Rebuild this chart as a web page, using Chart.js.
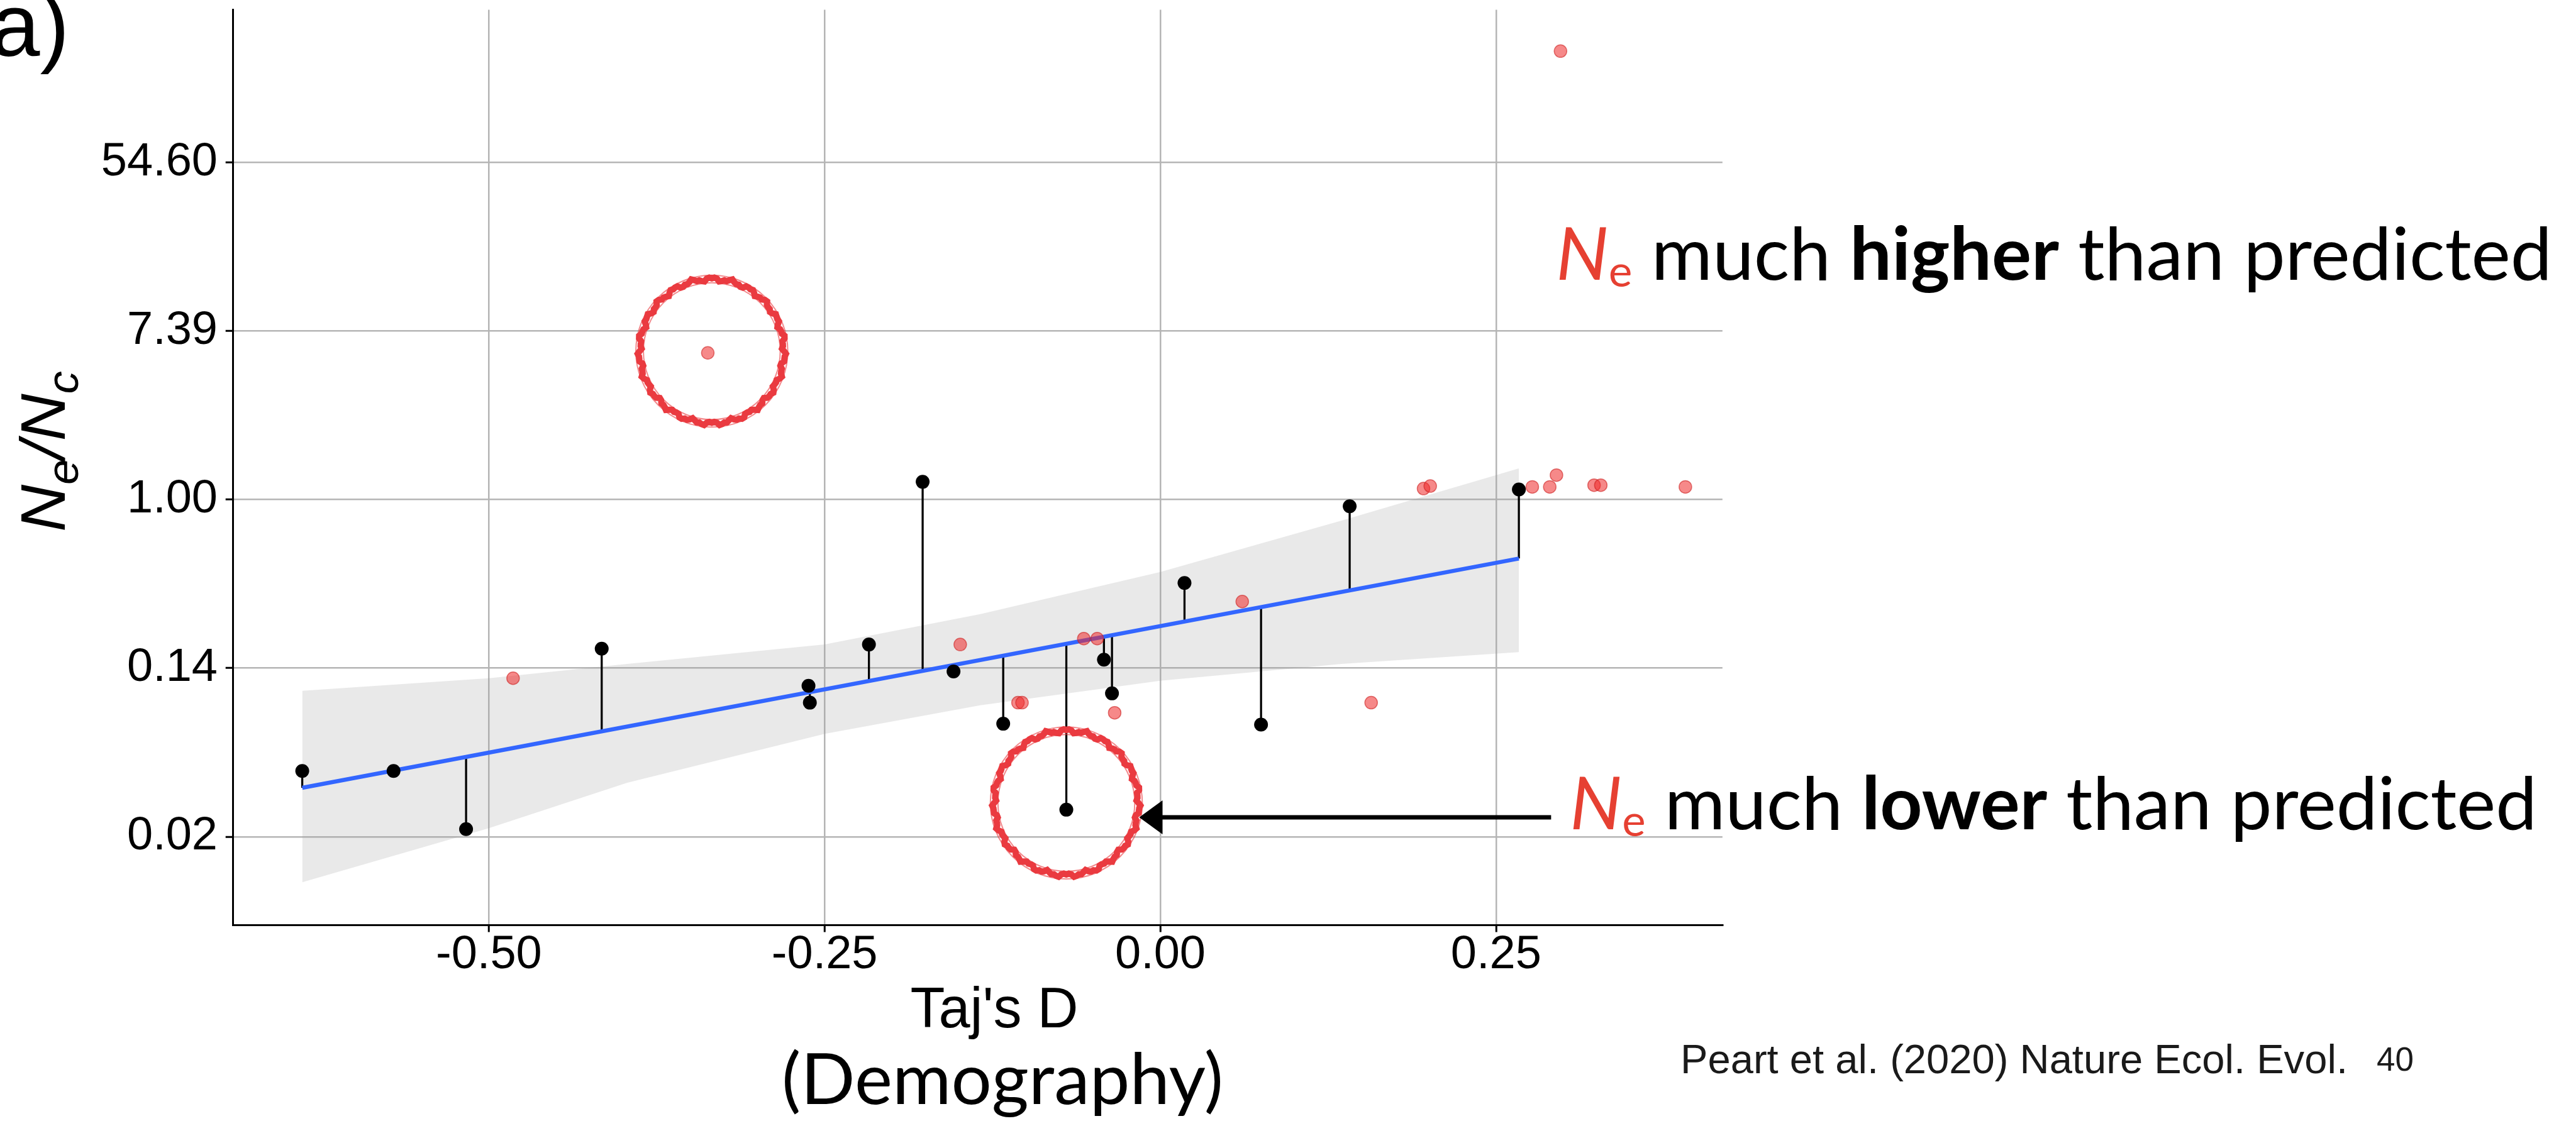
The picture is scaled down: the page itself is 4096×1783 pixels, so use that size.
<!DOCTYPE html>
<html>
<head>
<meta charset="utf-8">
<script src="https://cdn.jsdelivr.net/npm/chart.js@4.4.1/dist/chart.umd.min.js"></script>
<style>
  html, body { margin: 0; padding: 0; background: #fff; }
  canvas { display: block; }
</style>
</head>
<body>
<canvas id="myChart" width="4096" height="1783"></canvas>
<script>
const S = 0.82; // reference px -> window px

// Taj's D (x) against ln(Ne/Nc) (y)
const blackX = [-0.639, -0.571, -0.517, -0.416, -0.262, -0.261, -0.217, -0.177, -0.154, -0.117, -0.070, -0.042, -0.036, 0.018, 0.075, 0.141, 0.267];
const blackY = [-3.22, -3.22, -3.91, -1.77, -2.21, -2.41, -1.72, 0.21, -2.04, -2.66, -3.68, -1.90, -2.30, -0.99, -2.67, -0.08, 0.12];
const fittedY = [-3.42, -3.22, -3.05, -2.75, -2.29, -2.29, -2.15, -2.03, -1.96, -1.86, -1.71, -1.63, -1.61, -1.45, -1.28, -1.08, -0.70];

const redX = [-0.482, -0.337, -0.149, -0.106, -0.103, -0.057, -0.047, -0.034, 0.061, 0.157, 0.196, 0.201, 0.277, 0.290, 0.295, 0.298, 0.323, 0.328, 0.391];
const redY = [-2.12, 1.74, -1.72, -2.41, -2.41, -1.65, -1.65, -2.53, -1.21, -2.41, 0.13, 0.16, 0.15, 0.15, 0.29, 5.32, 0.17, 0.17, 0.15];

const fitX = [-0.639, 0.267];
const fitY = [-3.42, -0.70];

const bandX = [-0.639, -0.50, -0.397, -0.25, -0.134, 0.00, 0.135, 0.267];
const bandHi = [-2.27, -2.12, -1.95, -1.72, -1.36, -0.86, -0.25, 0.37];
const bandLo = [-4.54, -3.90, -3.36, -2.78, -2.44, -2.15, -1.95, -1.81];

const xTicks = [-0.50, -0.25, 0.00, 0.25];
const xTickLabels = ['-0.50', '-0.25', '0.00', '0.25'];
const yTicks = [-4, -2, 0, 2, 4];
const yTickLabels = ['0.02', '0.14', '1.00', '7.39', '54.60'];

// circled points and the arrow, in data units
const highlights = [{ x: -0.334, y: 1.76 }, { x: -0.070, y: -3.60 }];
const arrowTail = { x: 0.291, y: -3.77 };
const arrowTip = { x: -0.0157, y: -3.77 };

const sans = "'Liberation Sans', Arial, sans-serif";
const gill = "Lato, 'Noto Sans', sans-serif";

const segData = [];
blackX.forEach((x, i) => {
  segData.push({ x: x, y: blackY[i] }, { x: x, y: fittedY[i] }, { x: x, y: null });
});

function drawRuns(ctx, runs, x0, base, targetW) {
  let w = 0;
  runs.forEach(r => {
    ctx.font = r.font;
    r.w = ctx.measureText(r.text).width;
    w += r.w;
  });
  const k = targetW ? targetW / w : 1;
  ctx.save();
  ctx.translate(x0, base);
  ctx.scale(k, 1);
  ctx.textAlign = 'left';
  ctx.textBaseline = 'alphabetic';
  let cx = 0;
  runs.forEach(r => {
    ctx.font = r.font;
    ctx.fillStyle = r.color || '#000';
    ctx.fillText(r.text, cx, r.dy || 0);
    cx += r.w;
  });
  ctx.restore();
  return w * k;
}

function roughCircle(ctx, cx, cy, r) {
  ctx.save();
  ctx.strokeStyle = '#EA3A40';
  ctx.lineWidth = 10;
  ctx.beginPath();
  for (let a = 0; a <= 360; a += 2) {
    const t = a * Math.PI / 180;
    const rr = r + 2.5 * Math.sin(23 * t) + 1.5 * Math.sin(57 * t);
    const px = cx + rr * Math.cos(t), py = cy + rr * Math.sin(t);
    if (a === 0) ctx.moveTo(px, py); else ctx.lineTo(px, py);
  }
  ctx.closePath();
  ctx.stroke();
  ctx.lineWidth = 2;
  ctx.globalAlpha = 0.6;
  ctx.beginPath();
  ctx.arc(cx, cy, r + 6, 0, Math.PI * 2);
  ctx.stroke();
  ctx.beginPath();
  ctx.arc(cx, cy, r - 6, 0, Math.PI * 2);
  ctx.stroke();
  ctx.restore();
}

const overlay = {
  id: 'overlay',
  afterDatasetsDraw(chart) {
    const { ctx, scales: { x, y } } = chart;
    highlights.forEach(h => {
      roughCircle(ctx, x.getPixelForValue(h.x), y.getPixelForValue(h.y), 140 * S);
    });

    // arrow pointing at the low outlier
    const tx = x.getPixelForValue(arrowTip.x), ty = y.getPixelForValue(arrowTip.y);
    const sx = x.getPixelForValue(arrowTail.x), sy = y.getPixelForValue(arrowTail.y);
    ctx.save();
    ctx.strokeStyle = '#000';
    ctx.fillStyle = '#000';
    ctx.lineWidth = 7;
    ctx.beginPath();
    ctx.moveTo(sx, sy);
    ctx.lineTo(tx + 30, ty);
    ctx.stroke();
    ctx.beginPath();
    ctx.moveTo(tx, ty);
    ctx.lineTo(tx + 37, ty - 27);
    ctx.lineTo(tx + 37, ty + 27);
    ctx.closePath();
    ctx.fill();
    ctx.restore();
  },
  afterDraw(chart) {
    const ctx = chart.ctx;
    ctx.save();

    // panel tag
    drawRuns(ctx, [{ text: 'a)', font: `141px ${sans}` }], -15, 89);

    // y-axis title, rotated
    ctx.save();
    ctx.translate(103, 718);
    ctx.rotate(-Math.PI / 2);
    const yRuns = [
      { text: 'N', font: `italic 100px ${sans}` },
      { text: 'e', font: `italic 70px ${sans}`, dy: 21 },
      { text: '/', font: `italic 100px ${sans}` },
      { text: 'N', font: `italic 100px ${sans}` },
      { text: 'c', font: `italic 70px ${sans}`, dy: 21 }
    ];
    drawRuns(ctx, yRuns, -128, 0, 256);
    ctx.restore();

    // x-axis titles
    ctx.font = `90px ${sans}`;
    ctx.fillStyle = '#000';
    ctx.textAlign = 'center';
    ctx.textBaseline = 'alphabetic';
    ctx.fillText("Taj's D", 1581, 1634);
    drawRuns(ctx, [{ text: '(Demography)', font: `113px ${gill}` }], 1594 - 351, 1756, 702);

    // annotations
    const red = '#E64032';
    drawRuns(ctx, [
      { text: 'N', font: `italic 116px ${gill}`, color: red },
      { text: 'e', font: `70px ${gill}`, color: red, dy: 11 },
      { text: ' much ', font: `116px ${gill}` },
      { text: 'higher', font: `bold 116px ${gill}` },
      { text: ' than predicted', font: `116px ${gill}` }
    ], 2474, 445, 1584);
    drawRuns(ctx, [
      { text: 'N', font: `italic 116px ${gill}`, color: red },
      { text: 'e', font: `70px ${gill}`, color: red, dy: 11 },
      { text: ' much ', font: `116px ${gill}` },
      { text: 'lower', font: `bold 116px ${gill}` },
      { text: ' than predicted', font: `116px ${gill}` }
    ], 2496, 1319, 1538);

    // citation and slide number
    drawRuns(ctx, [{ text: 'Peart et al. (2020) Nature Ecol. Evol.', font: `65px ${sans}`, color: '#1a1a1a' }], 2672, 1707, 1061);
    drawRuns(ctx, [{ text: '40', font: `53px ${sans}`, color: '#1a1a1a' }], 3779, 1703);

    ctx.restore();
  }
};

const data = {
  datasets: [
    {
      label: 'band-hi',
      data: bandX.map((x, i) => ({ x: x, y: bandHi[i] })),
      borderWidth: 0,
      borderColor: 'transparent',
      pointRadius: 0,
      fill: '+1',
      backgroundColor: 'rgba(153,153,153,0.22)',
      tension: 0,
      order: 6
    },
    {
      label: 'band-lo',
      data: bandX.map((x, i) => ({ x: x, y: bandLo[i] })),
      borderWidth: 0,
      borderColor: 'transparent',
      pointRadius: 0,
      fill: false,
      tension: 0,
      order: 6
    },
    {
      label: 'residuals',
      data: segData,
      borderColor: '#000',
      borderWidth: 3.3,
      pointRadius: 0,
      fill: false,
      order: 4
    },
    {
      label: 'fit',
      data: fitX.map((x, i) => ({ x: x, y: fitY[i] })),
      borderColor: '#3366FF',
      borderWidth: 6.5,
      pointRadius: 0,
      fill: false,
      order: 3
    },
    {
      label: 'excluded',
      data: redX.map((x, i) => ({ x: x, y: redY[i] })),
      showLine: false,
      pointRadius: 10,
      pointBackgroundColor: 'rgba(238,40,40,0.55)',
      pointBorderColor: 'rgba(205,30,30,0.6)',
      pointBorderWidth: 1.5,
      order: 2
    },
    {
      label: 'species',
      data: blackX.map((x, i) => ({ x: x, y: blackY[i] })),
      showLine: false,
      pointRadius: 11,
      pointBackgroundColor: '#000',
      pointBorderColor: '#000',
      pointBorderWidth: 0,
      order: 1
    }
  ]
};

const config = {
  type: 'line',
  data: data,
  options: {
    responsive: false,
    animation: false,
    devicePixelRatio: 1,
    events: [],
    layout: {
      padding: { left: 0, top: 15.6, right: 1357.2, bottom: 0 }
    },
    plugins: {
      legend: { display: false },
      tooltip: { enabled: false },
      title: { display: false }
    },
    scales: {
      x: {
        type: 'linear',
        min: -0.6907,
        max: 0.4186,
        afterBuildTicks: (scale) => { scale.ticks = xTicks.map(v => ({ value: v })); },
        afterFit: (scale) => {
          scale.height = 312;
          scale.paddingLeft = 0;
          scale.paddingRight = 0;
        },
        ticks: {
          callback: (v, i) => xTickLabels[i],
          font: { family: sans, size: 74, lineHeight: 1 },
          color: '#000',
          padding: 0.5,
          maxRotation: 0,
          autoSkip: false
        },
        grid: { color: '#B5B5B5', lineWidth: 2.5, tickColor: '#000', tickLength: 11.5, tickWidth: 3 },
        border: { display: true, color: '#000', width: 3 }
      },
      y: {
        type: 'linear',
        min: -5.046,
        max: 5.81,
        afterBuildTicks: (scale) => { scale.ticks = yTicks.map(v => ({ value: v })); },
        afterFit: (scale) => {
          scale.width = 370.2;
          scale.paddingTop = 0;
          scale.paddingBottom = 0;
        },
        ticks: {
          callback: (v, i) => yTickLabels[i],
          font: { family: sans, size: 74, lineHeight: 1 },
          color: '#000',
          padding: 12.7,
          autoSkip: false
        },
        grid: { color: '#B5B5B5', lineWidth: 2.5, tickColor: '#000', tickLength: 11.5, tickWidth: 3 },
        border: { display: true, color: '#000', width: 3 }
      }
    }
  },
  plugins: [overlay]
};

const myChart = new Chart(document.getElementById('myChart'), config);
</script>
</body>
</html>
